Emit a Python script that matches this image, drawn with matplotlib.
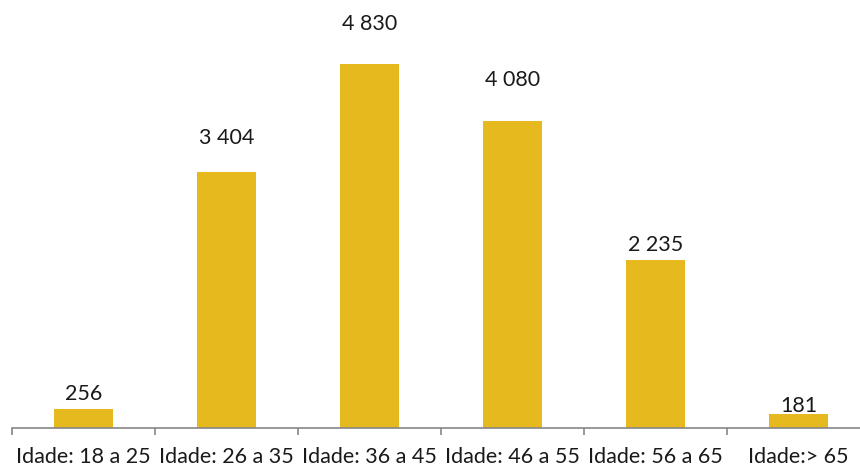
import matplotlib
matplotlib.use("Agg")
from matplotlib import pyplot as plt

# data
categories = ["Idade: 18 a 25", "Idade: 26 a 35", "Idade: 36 a 45",
              "Idade: 46 a 55", "Idade: 56 a 65", "Idade:> 65"]
values = [256, 3404, 4830, 4080, 2235, 181]
# gap from bar top to label baseline, in points (labels sit at uneven heights in the original)
label_lift = [6.5, 20, 24.5, 25, 6.5, 2]


def fmt(v):
  # thousands separated by a space
  return "{:,}".format(v).replace(",", " ")


def run():
  plt.rcParams["font.family"] = ["Lato", "DejaVu Sans"]
  fig = plt.figure(figsize=(8.6, 4.67), dpi=100)
  ax = fig.add_axes([12 / 860, 39 / 467, 858 / 860, 428 / 467])

  x = range(len(categories))
  ax.bar(x, values, width=0.41, color="#E6B91E")

  for i, v in enumerate(values):
    ax.annotate(fmt(v), (i, v), xytext=(0, label_lift[i]), textcoords="offset points",
                ha="center", va="baseline", fontsize=15.5, color="#1a1a1a")

  ax.set_xlim(-0.5, len(categories) - 0.5)
  ax.set_ylim(0, 5680)
  ax.set_yticks([])
  for s in ["top", "right", "left"]:
    ax.spines[s].set_visible(False)
  ax.spines["bottom"].set_color("#868686")
  ax.spines["bottom"].set_linewidth(1.2)

  # category labels
  ax.set_xticks(list(x))
  ax.set_xticklabels(categories, fontsize=15.5, color="#1a1a1a")
  ax.tick_params(axis="x", length=0, pad=14)
  # boundary tick marks
  ax.set_xticks([i - 0.5 for i in range(len(categories) + 1)], minor=True)
  ax.tick_params(axis="x", which="minor", length=5, width=1.2, color="#868686", direction="out")

  fig.savefig("out.png", dpi=100)


if __name__ == "__main__":
  run()
